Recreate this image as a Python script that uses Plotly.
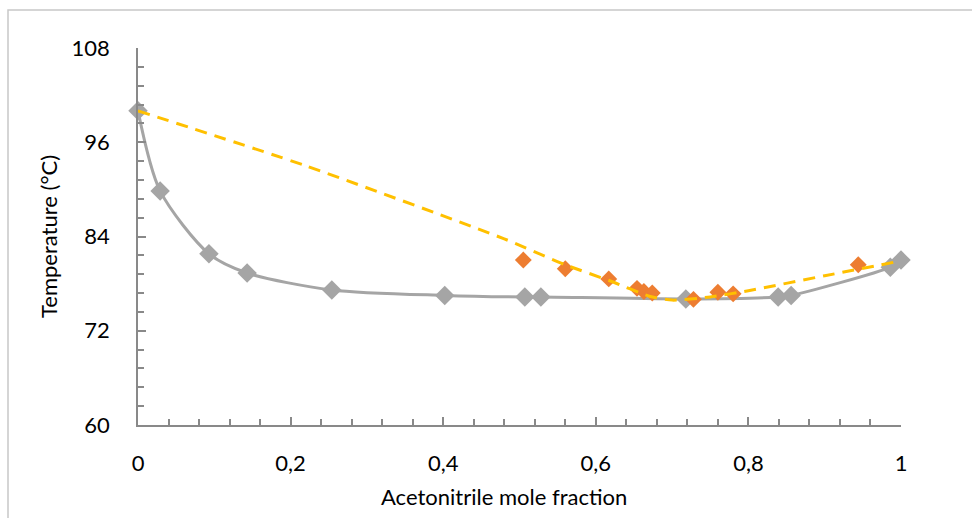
import plotly.graph_objects as go

# Liquid (bubble point) curve - gray
liq_x = [0.0, 0.029, 0.093, 0.143, 0.254, 0.402, 0.507, 0.528, 0.718, 0.839, 0.856, 0.986, 1.0]
liq_T = [100.0, 89.8, 81.8, 79.35, 77.2, 76.5, 76.3, 76.3, 76.05, 76.3, 76.5, 80.1, 81.0]

# Experimental points - orange
exp_x = [0.505, 0.560, 0.617, 0.654, 0.663, 0.674, 0.728, 0.760, 0.780, 0.944]
exp_T = [81.0, 79.9, 78.6, 77.4, 77.0, 76.8, 76.0, 76.9, 76.7, 80.4]

# Vapor (dew point) curve - yellow dashed
vap_x = [0.0, 0.22, 0.48, 0.56, 0.62, 0.67, 0.70, 0.75, 0.80, 0.90, 1.0]
vap_T = [100.0, 93.0, 83.7, 80.4, 78.3, 76.4, 75.9, 76.3, 77.1, 79.0, 80.9]

x_ticks = [0, 0.2, 0.4, 0.6, 0.8, 1]
x_ticktext = ["0", "0,2", "0,4", "0,6", "0,8", "1"]
y_ticks = [60, 72, 84, 96, 108]

fig = go.Figure()
fig.add_trace(go.Scatter(
    x=liq_x, y=liq_T, mode="lines+markers",
    line=dict(color="#A5A5A5", width=3, shape="spline", smoothing=0.8),
    marker=dict(symbol="diamond", size=15, color="#A5A5A5"),
    cliponaxis=False, showlegend=False))
fig.add_trace(go.Scatter(
    x=exp_x, y=exp_T, mode="markers",
    marker=dict(symbol="diamond", size=13, color="#ED7D31"),
    cliponaxis=False, showlegend=False))
fig.add_trace(go.Scatter(
    x=vap_x, y=vap_T, mode="lines",
    line=dict(color="#FFC000", width=3, shape="spline", smoothing=0.6, dash="12px,8px"),
    cliponaxis=False, showlegend=False))

L, R, T, B = 138, 71, 48, 93
W, H = 972, 518
pw, ph = W - L - R, H - T - B


def px_x(px):
    return (px - L) / pw


def px_y(py):
    return (H - B - py) / ph


# chart-area outline (left and top edges visible)
fig.add_shape(type="rect", xref="paper", yref="paper",
              x0=px_x(8), x1=px_x(1000), y0=px_y(540), y1=px_y(10),
              line=dict(color="#C8C8C8", width=1.5), layer="below")

# x-axis title (centred on the chart area, as in the reference)
fig.add_annotation(text="Acetonitrile mole fraction", xref="paper", yref="paper",
                   x=px_x(504), y=px_y(497), xanchor="center", yanchor="middle",
                   showarrow=False, font=dict(size=22))

font = "Lato, 'Open Sans', sans-serif"
fig.update_layout(
    width=W, height=H,
    margin=dict(l=L, r=R, t=T, b=B),
    paper_bgcolor="white", plot_bgcolor="white",
    separators=", ",
    font=dict(family=font, size=22, color="#000000"),
    xaxis=dict(range=[0, 1], tickvals=x_ticks, ticktext=x_ticktext,
               showgrid=False, zeroline=False, showline=True, linecolor="#898989", linewidth=1.5,
               ticks="inside", ticklen=8, tickcolor="#898989", tickwidth=1.5,
               minor=dict(dtick=0.04, ticks="inside", ticklen=6, tickcolor="#898989", tickwidth=1.5, showgrid=False),
               ticklabelstandoff=18, tickfont=dict(size=22)),
    yaxis=dict(range=[60, 108], tickvals=y_ticks,
               showgrid=False, zeroline=False, showline=True, linecolor="#898989", linewidth=1.5,
               ticks="inside", ticklen=8, tickcolor="#898989", tickwidth=1.5,
               minor=dict(dtick=2.4, tick0=60, ticks="inside", ticklen=6, tickcolor="#898989", tickwidth=1.5, showgrid=False),
               ticklabelstandoff=22, tickfont=dict(size=22),
               title=dict(text="Temperature (°C)", standoff=8, font=dict(size=22))),
)

fig.write_html("out.html")
